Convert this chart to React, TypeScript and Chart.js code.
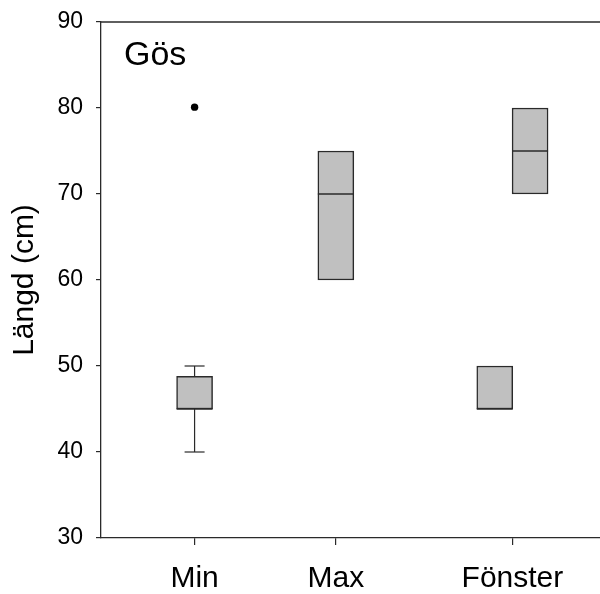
import React, { useEffect, useRef } from "react";
import { Chart, registerables } from "chart.js";

Chart.register(...registerables);

// ---- data ----
const categories = ["Min", "Max", "Fönster"];
const categoryPos = [3, 7, 12];
const boxPos = [3, 7, 11.5, 12.5];
const q1 = [45, 60, 45, 70];
const median = [45, 70, 45, 75];
const q3 = [48.8, 75, 50, 80];
const whiskerLow: (number | null)[] = [40, null, null, null];
const whiskerHigh: (number | null)[] = [50, null, null, null];
const outlierPos = [3];
const outlierVal = [80.1];
const yTicks = [30, 40, 50, 60, 70, 80, 90];
const panelLabel = "Gös";
const yTitle = "Längd (cm)";

const FONT = "'Liberation Sans', Arial, sans-serif";
const LINE = "#2a2a2a";

export default function App() {
  const ref = useRef<HTMLCanvasElement>(null);

  useEffect(() => {
    if (!ref.current) return;

    const whiskerData: any[] = [];
    const capData: any[] = [];
    boxPos.forEach((x, i) => {
      if (whiskerLow[i] != null) {
        whiskerData.push({ x, y: q1[i] }, { x, y: whiskerLow[i] }, { x, y: null });
        capData.push({ x, y: whiskerLow[i] });
      }
      if (whiskerHigh[i] != null) {
        whiskerData.push({ x, y: q3[i] }, { x, y: whiskerHigh[i] }, { x, y: null });
        capData.push({ x, y: whiskerHigh[i] });
      }
    });

    const framePlugin = {
      id: "frame",
      afterDraw(chart: any) {
        const { ctx, chartArea } = chart;
        ctx.save();
        ctx.strokeStyle = LINE;
        ctx.lineWidth = 1.3;
        ctx.beginPath();
        ctx.moveTo(chartArea.left, chartArea.top);
        ctx.lineTo(chartArea.right, chartArea.top);
        ctx.stroke();
        ctx.fillStyle = "#000";
        ctx.font = `34px ${FONT}`;
        ctx.textBaseline = "alphabetic";
        ctx.textAlign = "left";
        ctx.fillText(panelLabel, 124, 65);
        ctx.restore();
      },
    };

    const chart = new Chart(ref.current, {
      data: {
        datasets: [
          {
            type: "bar",
            data: boxPos.map((x, i) => ({ x, y: [q1[i], q3[i]] })) as any,
            backgroundColor: "#c0c0c0",
            borderColor: LINE,
            borderWidth: 1.5,
            borderSkipped: false,
            barThickness: 36,
            grouped: false,
            order: 3,
          } as any,
          {
            type: "scatter",
            data: boxPos.map((x, i) => ({ x, y: median[i] })),
            pointStyle: "line",
            pointRadius: 18,
            borderColor: LINE,
            borderWidth: 1.5,
            order: 1,
          } as any,
          {
            type: "line",
            data: whiskerData,
            showLine: true,
            spanGaps: false,
            pointRadius: 0,
            borderColor: LINE,
            borderWidth: 1.2,
            order: 2,
          } as any,
          {
            type: "scatter",
            data: capData,
            pointStyle: "line",
            pointRadius: 10,
            borderColor: LINE,
            borderWidth: 1.2,
            order: 2,
          } as any,
          {
            type: "scatter",
            data: outlierPos.map((x, i) => ({ x, y: outlierVal[i] })),
            pointStyle: "circle",
            pointRadius: 3.7,
            backgroundColor: "#000",
            borderColor: "#000",
            borderWidth: 0,
            order: 0,
          } as any,
        ],
      },
      options: {
        responsive: false,
        animation: false,
        layout: { autoPadding: false, padding: { top: 22, right: 0, left: 0, bottom: 0 } },
        plugins: { legend: { display: false }, tooltip: { enabled: false } },
        scales: {
          x: {
            type: "linear",
            min: 0.35,
            max: 14.48,
            offset: false,
            border: { color: LINE, width: 1.3 },
            grid: {
              display: true,
              offset: false,
              drawOnChartArea: false,
              drawTicks: true,
              tickLength: 7,
              color: LINE,
              lineWidth: 1.2,
            },
            afterBuildTicks: (scale: any) => {
              scale.ticks = categoryPos.map((v) => ({ value: v }));
            },
            afterFit: (scale: any) => {
              scale.height = 56;
              scale.paddingLeft = 0;
              scale.paddingRight = 0;
            },
            ticks: {
              autoSkip: false,
              maxRotation: 0,
              color: "#000",
              padding: 16,
              font: { family: FONT, size: 30 },
              callback: (v: any) => {
                const i = categoryPos.indexOf(Number(v));
                return i >= 0 ? categories[i] : "";
              },
            },
          },
          y: {
            type: "linear",
            min: 30,
            max: 90,
            border: { color: LINE, width: 1.3 },
            grid: {
              display: true,
              drawOnChartArea: false,
              drawTicks: true,
              tickLength: 5,
              color: LINE,
              lineWidth: 1.2,
            },
            afterBuildTicks: (scale: any) => {
              scale.ticks = yTicks.map((v) => ({ value: v }));
            },
            afterFit: (scale: any) => {
              scale.width = 101;
              scale.paddingTop = 0;
              scale.paddingBottom = 0;
            },
            ticks: {
              color: "#000",
              padding: 13,
              font: { family: FONT, size: 23 },
            },
            title: {
              display: true,
              text: yTitle,
              color: "#000",
              font: { family: FONT, size: 30 },
              padding: { top: 7, bottom: 0 },
            },
          },
        },
      },
      plugins: [framePlugin],
    });

    return () => chart.destroy();
  }, []);

  return (
    <div
      style={{
        position: "fixed",
        left: 0,
        top: 0,
        width: 600,
        height: 594,
        overflow: "hidden",
        background: "#fff",
      }}
    >
      <canvas ref={ref} width={600} height={594} style={{ display: "block" }} />
    </div>
  );
}
